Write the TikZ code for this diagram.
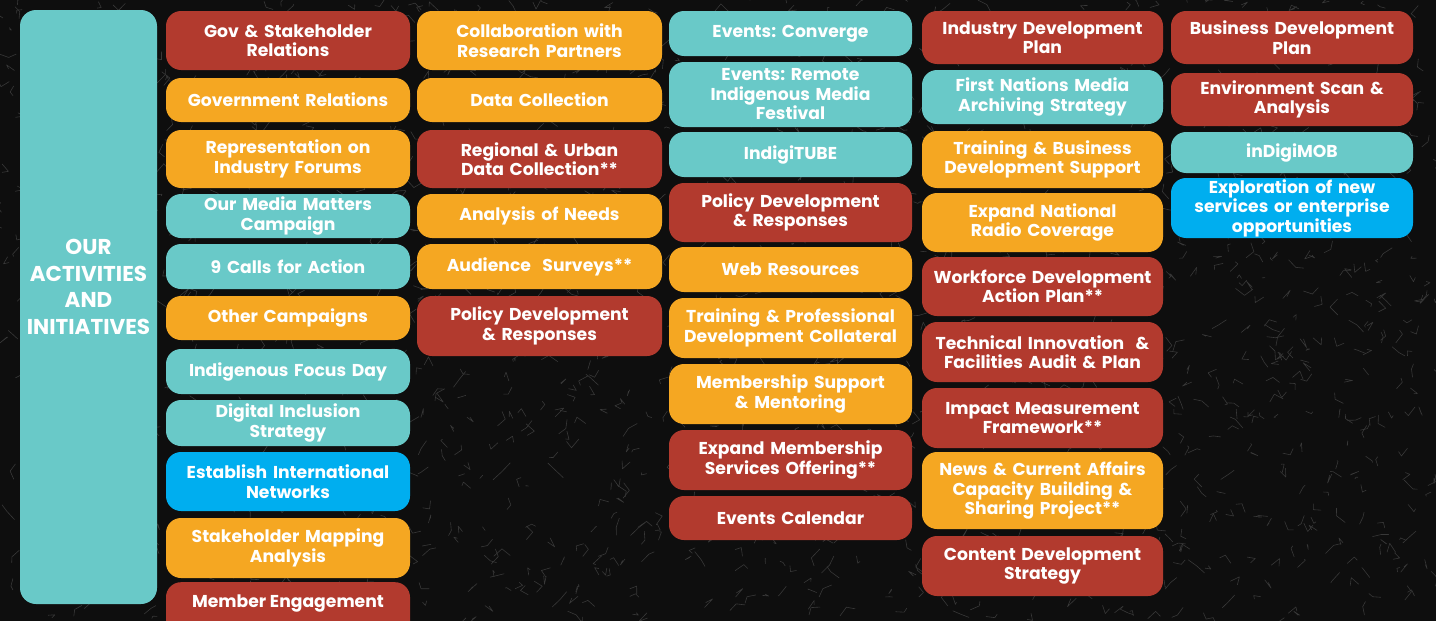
\documentclass[tikz,border=0pt]{standalone}
\usepackage{fontspec}
\setmainfont{Poppins}
\frenchspacing
\begin{document}
\definecolor{bgdark}{HTML}{0E0E0E}
\definecolor{crack}{HTML}{383838}
\definecolor{boxred}{HTML}{B23A2E}
\definecolor{boxorange}{HTML}{F5A722}
\definecolor{boxteal}{HTML}{69C9C8}
\definecolor{boxblue}{HTML}{00AEEF}
\tikzset{
  boxfont/.style={font=\fontsize{17.2}{19.5}\selectfont\bfseries},
  actbox/.style={rounded corners=15pt, inner sep=0pt, text=white,
    boxfont, align=center},
  crackline/.style={crack, line width=0.6pt, line cap=round, line join=round},
}
% #1 name, #2 colour, #3 left, #4 top, #5 right, #6 bottom, #7 text
\newcommand\actbox[7]{%
  \node[actbox, fill=#2, minimum width={#5-#3}, minimum height={#6-#4},
        text width={#5-#3-6}] (#1) at ({(#3+#5)/2},{(#4+#6)/2+1}) {#7};}
\begin{tikzpicture}[x=1pt,y=-1pt]
\useasboundingbox (0,0) rectangle (1436,621);
\clip (0,0) rectangle (1436,621);
\fill[bgdark] (0,0) rectangle (1436,621);
% cracked texture of the backdrop
\pgfmathsetseed{4217}
\foreach \i in {1,...,1800}{
  \pgfmathsetmacro\xa{rnd*1436}
  \pgfmathsetmacro\ya{rnd*621}
  \pgfmathsetmacro\dxa{rand*9}
  \pgfmathsetmacro\dya{rand*9}
  \pgfmathsetmacro\dxb{rand*9}
  \pgfmathsetmacro\dyb{rand*9}
  \draw[crackline] (\xa,\ya) -- ++(\dxa,\dya) -- ++(\dxb,\dyb);
}

% title column
\node[rounded corners=16pt, fill=boxteal, minimum width=137pt, minimum height=594pt,
      inner sep=0pt] (title) at (88.5,307) {};
\node[text=white, align=center, inner sep=0pt,
      font=\fontsize{21.5}{26.5}\selectfont\bfseries] (titletext) at (88.5,287)
  {OUR\\ACTIVITIES\\AND\\INITIATIVES};

% column 1
\actbox{c1a}{boxred}{166}{10}{410}{69}{Gov \& Stakeholder\\Relations}
\actbox{c1b}{boxorange}{166}{77}{410}{121}{Government Relations}
\actbox{c1c}{boxorange}{166}{129}{410}{187}{Representation on\\Industry Forums}
\actbox{c1d}{boxteal}{166}{193}{410}{237}{Our Media Matters\\Campaign}
\actbox{c1e}{boxteal}{166}{243}{410}{288}{9 Calls for Action}
\actbox{c1f}{boxorange}{166}{295}{410}{339}{Other Campaigns}
\actbox{c1g}{boxteal}{166}{348}{410}{393}{Indigenous Focus Day}
\actbox{c1h}{boxteal}{166}{399}{410}{445}{Digital Inclusion\\Strategy}
\actbox{c1i}{boxblue}{166}{451}{410}{510}{Establish International\\Networks}
\actbox{c1j}{boxorange}{166}{517}{410}{577}{Stakeholder Mapping\\Analysis}
\node[actbox, fill=boxred, minimum width=244pt, minimum height=60pt,
      anchor=north] (c1k) at (288,582) {};
\node[text=white, boxfont, inner sep=0pt] (c1kt) at (288,603) {Member Engagement};

% column 2
\actbox{c2a}{boxorange}{417}{10}{662}{69}{Collaboration with\\Research Partners}
\actbox{c2b}{boxorange}{417}{77}{662}{121}{Data Collection}
\actbox{c2c}{boxred}{417}{129}{662}{187}{Regional \& Urban\\Data Collection**}
\actbox{c2d}{boxorange}{417}{193}{662}{237}{Analysis of Needs}
\actbox{c2e}{boxorange}{417}{243}{662}{288}{Audience~~Surveys**}
\actbox{c2f}{boxred}{417}{295}{662}{355}{Policy Development\\\& Responses}

% column 3
\actbox{c3a}{boxteal}{669}{10}{912}{55}{Events: Converge}
\actbox{c3b}{boxteal}{669}{61}{912}{126}{Events: Remote\\Indigenous Media\\Festival}
\actbox{c3c}{boxteal}{669}{131}{912}{176}{IndigiTUBE}
\actbox{c3d}{boxred}{669}{182}{912}{241}{Policy Development\\\& Responses}
\actbox{c3e}{boxorange}{669}{246}{912}{291}{Web Resources}
\actbox{c3f}{boxorange}{669}{297}{912}{357}{Training \& Professional\\Development Collateral}
\actbox{c3g}{boxorange}{669}{363}{912}{423}{Membership Support\\\& Mentoring}
\actbox{c3h}{boxred}{669}{429}{912}{489}{Expand Membership\\Services Offering**}
\actbox{c3i}{boxred}{669}{495}{912}{539}{Events Calendar}

% column 4
\actbox{c4a}{boxred}{922}{10}{1163}{63}{Industry Development\\Plan}
\actbox{c4b}{boxteal}{922}{69}{1163}{123}{First Nations Media\\Archiving Strategy}
\actbox{c4c}{boxorange}{922}{130}{1163}{187}{Training \& Business\\Development Support}
\actbox{c4d}{boxorange}{922}{192}{1163}{251}{Expand National\\Radio Coverage}
\actbox{c4e}{boxred}{922}{256}{1163}{315}{Workforce Development\\Action Plan**}
\actbox{c4f}{boxred}{922}{321}{1163}{381}{Technical Innovation~ \&\\Facilities Audit \& Plan}
\actbox{c4g}{boxred}{922}{387}{1163}{447}{Impact Measurement\\Framework**}
\actbox{c4h}{boxorange}{922}{451}{1163}{528}{News \& Current Affairs\\Capacity Building \&\\Sharing Project**}
\actbox{c4i}{boxred}{922}{535}{1163}{595}{Content Development\\Strategy}

% column 5
\actbox{c5a}{boxred}{1171}{10}{1413}{63}{Business Development\\Plan}
\actbox{c5b}{boxred}{1171}{72}{1413}{125}{Environment Scan \&\\Analysis}
\actbox{c5c}{boxteal}{1171}{131}{1413}{172}{inDigiMOB}
\actbox{c5d}{boxblue}{1171}{177}{1413}{237}{Exploration of new\\services or enterprise\\opportunities}
\end{tikzpicture}
\end{document}
